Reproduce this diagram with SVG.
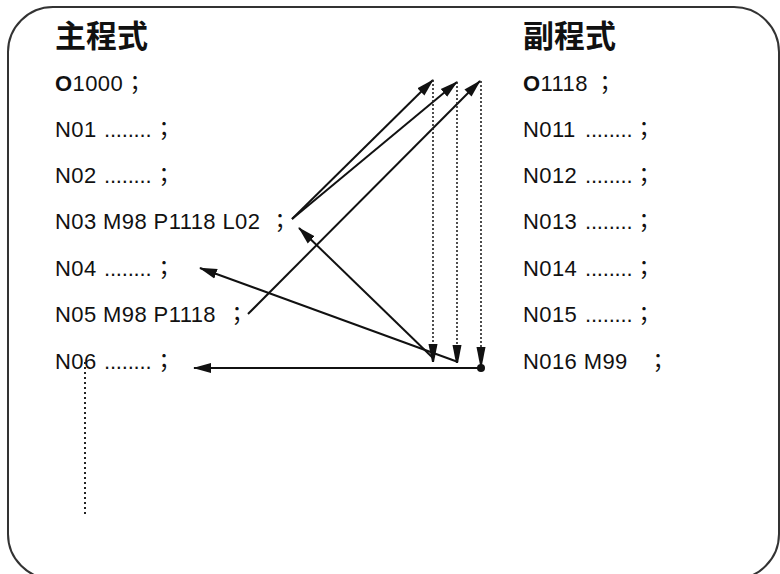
<svg xmlns="http://www.w3.org/2000/svg" width="780" height="574" viewBox="0 0 780 574">
<style>
.t{font-family:"Liberation Sans","Noto Sans CJK TC",sans-serif;font-size:22px;fill:#111;letter-spacing:0.4px}
.s{font-family:"Noto Sans CJK TC",sans-serif;letter-spacing:0}
.d{letter-spacing:-0.2px}
.b{font-weight:bold}
.h{font-family:"Noto Sans CJK TC",sans-serif;font-size:31px;font-weight:bold;fill:#111}
.ln{stroke:#111;stroke-width:2;fill:none}
.dt{stroke:#222;stroke-width:1.6;stroke-dasharray:2 2;fill:none}
</style>
<defs>
<marker id="ah" markerUnits="userSpaceOnUse" markerWidth="18" markerHeight="12" refX="17" refY="6" orient="auto">
<path d="M0,1 L18,6 L0,11 Z" fill="#111"/>
</marker>
<marker id="ad" markerUnits="userSpaceOnUse" markerWidth="18" markerHeight="12" refX="17" refY="6" orient="auto">
<path d="M0,1.5 L18,5 L18,7 L0,10.5 Z" fill="#111"/>
</marker>
</defs>
<rect x="8" y="7" width="771" height="572" rx="45" ry="45" fill="#fff" stroke="#333" stroke-width="2"/>

<g id="main">
<g id="main-title"><text class="h" x="55" y="47">主程式</text></g>
<g id="m-o1000"><text class="t" y="91"><tspan x="55" class="b">O</tspan><tspan>1000</tspan><tspan x="124" class="s">；</tspan></text></g>
<g id="m-n01"><text class="t" y="137"><tspan x="55">N01</tspan><tspan x="104" class="d">........</tspan><tspan x="153" class="s">；</tspan></text></g>
<g id="m-n02"><text class="t" y="183"><tspan x="55">N02</tspan><tspan x="104" class="d">........</tspan><tspan x="153" class="s">；</tspan></text></g>
<g id="m-n03"><text class="t" y="229"><tspan x="55">N03 M98 P1118 L02</tspan><tspan x="269" class="s">；</tspan></text></g>
<g id="m-n04"><text class="t" y="276"><tspan x="55">N04</tspan><tspan x="104" class="d">........</tspan><tspan x="153" class="s">；</tspan></text></g>
<g id="m-n05"><text class="t" y="322"><tspan x="55">N05 M98 P1118</tspan><tspan x="226" class="s">；</tspan></text></g>
<g id="m-n06"><text class="t" y="369"><tspan x="55">N06</tspan><tspan x="104" class="d">........</tspan><tspan x="153" class="s">；</tspan></text></g>
</g>

<g id="sub">
<g id="sub-title"><text class="h" x="523" y="47">副程式</text></g>
<g id="s-o1118"><text class="t" y="91"><tspan x="523" class="b">O</tspan><tspan>1118</tspan><tspan x="594" class="s">；</tspan></text></g>
<g id="s-n011"><text class="t" y="137"><tspan x="523">N011</tspan><tspan x="585" class="d">........</tspan><tspan x="633" class="s">；</tspan></text></g>
<g id="s-n012"><text class="t" y="183"><tspan x="523">N012</tspan><tspan x="585" class="d">........</tspan><tspan x="633" class="s">；</tspan></text></g>
<g id="s-n013"><text class="t" y="229"><tspan x="523">N013</tspan><tspan x="585" class="d">........</tspan><tspan x="633" class="s">；</tspan></text></g>
<g id="s-n014"><text class="t" y="276"><tspan x="523">N014</tspan><tspan x="585" class="d">........</tspan><tspan x="633" class="s">；</tspan></text></g>
<g id="s-n015"><text class="t" y="322"><tspan x="523">N015</tspan><tspan x="585" class="d">........</tspan><tspan x="633" class="s">；</tspan></text></g>
<g id="s-n016"><text class="t" y="369"><tspan x="523">N016 M99</tspan><tspan x="647" class="s">；</tspan></text></g>
</g>

<g id="connectors">
<line class="ln" x1="292" y1="219" x2="433" y2="80" marker-end="url(#ah)"/>
<line class="ln" x1="292" y1="219" x2="457" y2="82" marker-end="url(#ah)"/>
<line class="ln" x1="248" y1="314" x2="480" y2="81" marker-end="url(#ah)"/>
<line class="dt" x1="433" y1="80" x2="433" y2="361" marker-end="url(#ad)"/>
<line class="dt" x1="457" y1="82" x2="457" y2="362" marker-end="url(#ad)"/>
<line class="dt" x1="481" y1="81" x2="481" y2="364" marker-end="url(#ad)"/>
<line class="ln" x1="433" y1="358" x2="299" y2="228" marker-end="url(#ah)"/>
<line class="ln" x1="458" y1="362" x2="200" y2="268" marker-end="url(#ah)"/>
<line class="ln" x1="481" y1="368" x2="194" y2="368" marker-end="url(#ah)"/>
<circle cx="481" cy="368" r="4" fill="#111"/>
<line class="dt" x1="85" y1="362" x2="85" y2="516" style="stroke-width:2;stroke-dasharray:2 3"/>
</g>
</svg>
